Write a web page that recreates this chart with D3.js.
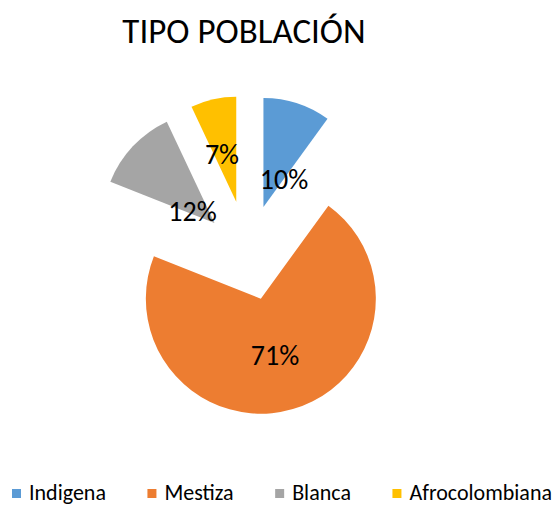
<!DOCTYPE html>
<html>
<head>
<meta charset="utf-8">
<script src="https://cdn.jsdelivr.net/npm/d3@7"></script>
<style>
  body { margin: 0; background: #ffffff; }
  svg { display: block; }
  text { font-family: Calibri, Carlito, "Liberation Sans", Arial, sans-serif; fill: #000000; }
</style>
</head>
<body>
<div id="chart"></div>
<script>
// chart data
const categories = ["Indigena", "Mestiza", "Blanca", "Afrocolombiana"];
const percents = [10, 71, 12, 7];
const colors = ["#5B9BD5", "#ED7D31", "#A5A5A5", "#FFC000"];
const title = "TIPO POBLACIÓN";

const frame_width = 554;
const frame_height = 505;

// pie layout (exploded slices, like the office chart)
const center = {x: 248, y: 254.5};
const explode = [50, 46, 46, 54];
const radius = [109, 115, 112, 105];
// nudges for the data labels (excel "best fit")
const label_nudge = [[2, 30], [-3.5, -3.5], [23, 31], [-1.6, 9.6]];

const FRAME =
d3.select("#chart")
    .append("svg")
        .attr("width", frame_width)
        .attr("height", frame_height);

FRAME.append("text")
    .attr("x", 244)
    .attr("y", 43)
    .attr("text-anchor", "middle")
    .attr("font-size", "35px")
    .text(title);

const pie = d3.pie().sort(null).value(d => d)(percents);

pie.forEach((p, i) => {
    const mid = (p.startAngle + p.endAngle) / 2;
    const ux = Math.sin(mid), uy = -Math.cos(mid);
    const ax = center.x + explode[i] * ux;
    const ay = center.y + explode[i] * uy;

    const arc = d3.arc().innerRadius(0).outerRadius(radius[i]);

    FRAME.append("path")
        .attr("transform", "translate(" + ax + "," + ay + ")")
        .attr("d", arc(p))
        .attr("fill", colors[i]);

    const lx = ax + 0.55 * radius[i] * ux + label_nudge[i][0];
    const ly = ay + 0.55 * radius[i] * uy + label_nudge[i][1];

    FRAME.append("text")
        .attr("x", lx)
        .attr("y", ly + 9)
        .attr("text-anchor", "middle")
        .attr("font-size", "28px")
        .text(percents[i] + "%");
});

// legend, spread from x=12 to x=552 using measured text widths
const legend = FRAME.append("g");
const items = categories.map((c, i) => {
    const t = legend.append("text")
        .attr("y", 500)
        .attr("font-size", "22px")
        .text(c);
    return {t: t, w: t.node().getComputedTextLength()};
});
const used = d3.sum(items, d => 17 + d.w);
const gap = (540 - used) / (items.length - 1);
let x = 12;
items.forEach((d, i) => {
    legend.append("rect")
        .attr("x", x)
        .attr("y", 489)
        .attr("width", 9)
        .attr("height", 9)
        .attr("fill", colors[i]);
    d.t.attr("x", x + 17);
    x = x + 17 + d.w + gap;
});
</script>
</body>
</html>
